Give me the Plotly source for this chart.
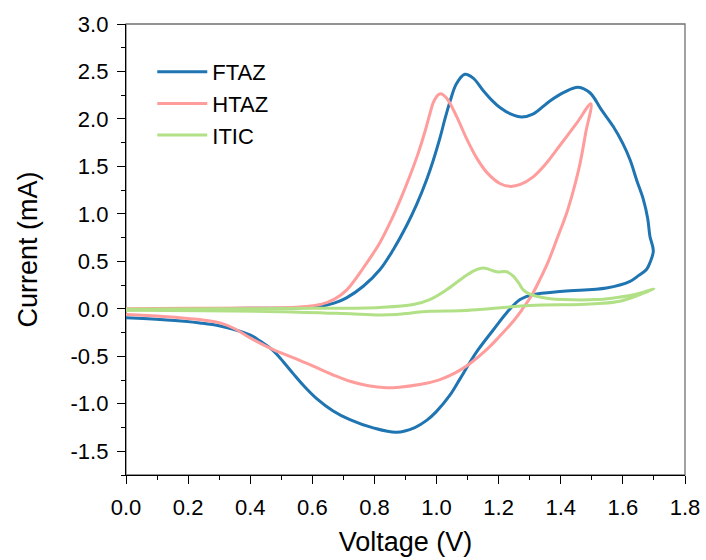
import plotly.graph_objects as go

# ---------------- data ----------------
ftaz_v = [0.0, 0.2, 0.4, 0.55, 0.62, 0.67, 0.71, 0.764, 0.818, 0.86, 0.904, 0.936, 0.968, 0.989, 1.011, 1.027,
          1.043, 1.064, 1.091, 1.118, 1.15, 1.18, 1.204, 1.24, 1.274, 1.31, 1.365, 1.41, 1.456, 1.494, 1.53,
          1.569, 1.60, 1.623, 1.645, 1.666, 1.68, 1.687, 1.698,
          1.687, 1.676, 1.65, 1.623, 1.547, 1.408, 1.311, 1.269, 1.226, 1.183, 1.134, 1.108, 1.075, 1.043,
          1.0, 0.968, 0.93, 0.871, 0.796, 0.721, 0.667, 0.614, 0.571, 0.539, 0.507, 0.474, 0.43, 0.399,
          0.303, 0.238, 0.12, 0.0]
ftaz_i = [-0.01, 0.0, 0.005, 0.01, 0.025, 0.06, 0.116, 0.238, 0.414, 0.62, 0.88, 1.10, 1.36, 1.56, 1.80, 2.0,
          2.18, 2.37, 2.47, 2.43, 2.30, 2.19, 2.12, 2.05, 2.02, 2.05, 2.19, 2.28, 2.335, 2.276, 2.10,
          1.92, 1.74, 1.57, 1.35, 1.15, 0.95, 0.765, 0.61,
          0.485, 0.414, 0.35, 0.29, 0.22, 0.186, 0.15, 0.098, -0.04, -0.22, -0.43, -0.56, -0.74, -0.91,
          -1.08, -1.175, -1.25, -1.30, -1.254, -1.167, -1.075, -0.945, -0.805, -0.685, -0.56, -0.44, -0.335,
          -0.275, -0.18, -0.148, -0.115, -0.095]

htaz_v = [0.0, 0.2, 0.4, 0.5, 0.58, 0.63, 0.67, 0.711, 0.764, 0.818, 0.855, 0.882, 0.914, 0.941, 0.963,
          0.979, 0.989, 1.0, 1.013, 1.032, 1.064, 1.097, 1.129, 1.161, 1.204, 1.236, 1.27, 1.311, 1.35, 1.397,
          1.45, 1.497,
          1.48, 1.462, 1.44, 1.419, 1.387, 1.36, 1.333, 1.306, 1.275, 1.247, 1.20, 1.161, 1.108, 1.06,
          1.011, 0.95, 0.88, 0.839, 0.78, 0.721, 0.67, 0.614, 0.55, 0.474, 0.399, 0.35, 0.303, 0.238,
          0.12, 0.0]
htaz_i = [0.0, 0.005, 0.008, 0.012, 0.025, 0.05, 0.1, 0.20, 0.43, 0.70, 0.94, 1.14, 1.40, 1.64, 1.87,
          2.06, 2.17, 2.235, 2.265, 2.22, 2.03, 1.79, 1.59, 1.44, 1.32, 1.29, 1.31, 1.39, 1.52, 1.72,
          1.95, 2.16,
          1.85, 1.53, 1.24, 1.01, 0.73, 0.50, 0.31, 0.14, -0.01, -0.13, -0.30, -0.43, -0.575, -0.675,
          -0.745, -0.795, -0.825, -0.83, -0.81, -0.763, -0.70, -0.62, -0.53, -0.43, -0.305, -0.21, -0.148,
          -0.113, -0.08, -0.06]

itic_v = [0.0, 0.3, 0.6, 0.818, 0.925, 0.98, 1.032, 1.086, 1.12, 1.15, 1.17, 1.193, 1.226, 1.247, 1.265,
          1.279, 1.30, 1.322, 1.36, 1.408, 1.515, 1.57, 1.623, 1.66, 1.70,
          1.655, 1.59, 1.52, 1.462, 1.30, 1.14, 1.075, 0.979, 0.90, 0.871, 0.818, 0.70, 0.5, 0.25, 0.0]
itic_i = [-0.005, 0.0, 0.005, 0.015, 0.045, 0.10, 0.20, 0.33, 0.40, 0.43, 0.415, 0.39, 0.39, 0.345, 0.27,
          0.20, 0.155, 0.133, 0.11, 0.098, 0.098, 0.115, 0.14, 0.17, 0.21,
          0.15, 0.08, 0.055, 0.045, 0.035, -0.007, -0.02, -0.025, -0.05, -0.06, -0.065, -0.05, -0.03,
          -0.02, -0.015]

x_tick_vals = [0.0, 0.2, 0.4, 0.6, 0.8, 1.0, 1.2, 1.4, 1.6, 1.8]
x_tick_text = ["0.0", "0.2", "0.4", "0.6", "0.8", "1.0", "1.2", "1.4", "1.6", "1.8"]
y_tick_vals = [-1.5, -1.0, -0.5, 0.0, 0.5, 1.0, 1.5, 2.0, 2.5, 3.0]
y_tick_text = ["-1.5", "-1.0", "-0.5", "0.0", "0.5", "1.0", "1.5", "2.0", "2.5", "3.0"]

# ---------------- figure ----------------
FONT = "Liberation Sans, Arial, sans-serif"
fig = go.Figure()
series = [("FTAZ", ftaz_v, ftaz_i, "#1f74b2"),
          ("HTAZ", htaz_v, htaz_i, "#ff9c9c"),
          ("ITIC", itic_v, itic_i, "#b2e086")]
for name, v, i, c in series:
    fig.add_trace(go.Scatter(x=v, y=i, mode="lines", name=name,
                             line=dict(color=c, width=3, shape="spline", smoothing=1.0, simplify=False)))

axis_common = dict(showgrid=False, zeroline=False, ticks="outside", ticklen=8, tickwidth=1.3,
                   tickcolor="black", showline=True, linecolor="black", linewidth=1.3, automargin=False,
                   tickfont=dict(family=FONT, size=22, color="black"))
fig.update_xaxes(range=[0, 1.8], tickvals=x_tick_vals, ticktext=x_tick_text,
                 minor=dict(ticks="outside", ticklen=4, tickwidth=1.3, dtick=0.1, tick0=0, tickcolor="black"),
                 title=dict(text="Voltage (V)", font=dict(family=FONT, size=27, color="black"), standoff=13),
                 ticklabelstandoff=4,
                 **axis_common)
fig.update_yaxes(range=[-1.75, 3.0], tickvals=y_tick_vals, ticktext=y_tick_text,
                 minor=dict(ticks="outside", ticklen=4, tickwidth=1.3, dtick=0.25, tick0=0, tickcolor="black"),
                 title=dict(text="Current (mA)", font=dict(family=FONT, size=27, color="black"), standoff=25),
                 ticklabelstandoff=4,
                 **axis_common)

fig.add_shape(type="rect", xref="paper", yref="paper", x0=0, y0=0, x1=1, y1=1,
              line=dict(color="#707070", width=1.3), layer="below")

fig.update_layout(
    width=706, height=560,
    margin=dict(l=126, r=21, t=24, b=85),
    paper_bgcolor="white", plot_bgcolor="white",
    font=dict(family=FONT, color="black"),
    legend=dict(x=0.047, y=0.94, xanchor="left", yanchor="top", bgcolor="rgba(0,0,0,0)",
                font=dict(family=FONT, size=22, color="black"), tracegroupgap=0, itemwidth=50),
)

fig.write_html("out.html")
